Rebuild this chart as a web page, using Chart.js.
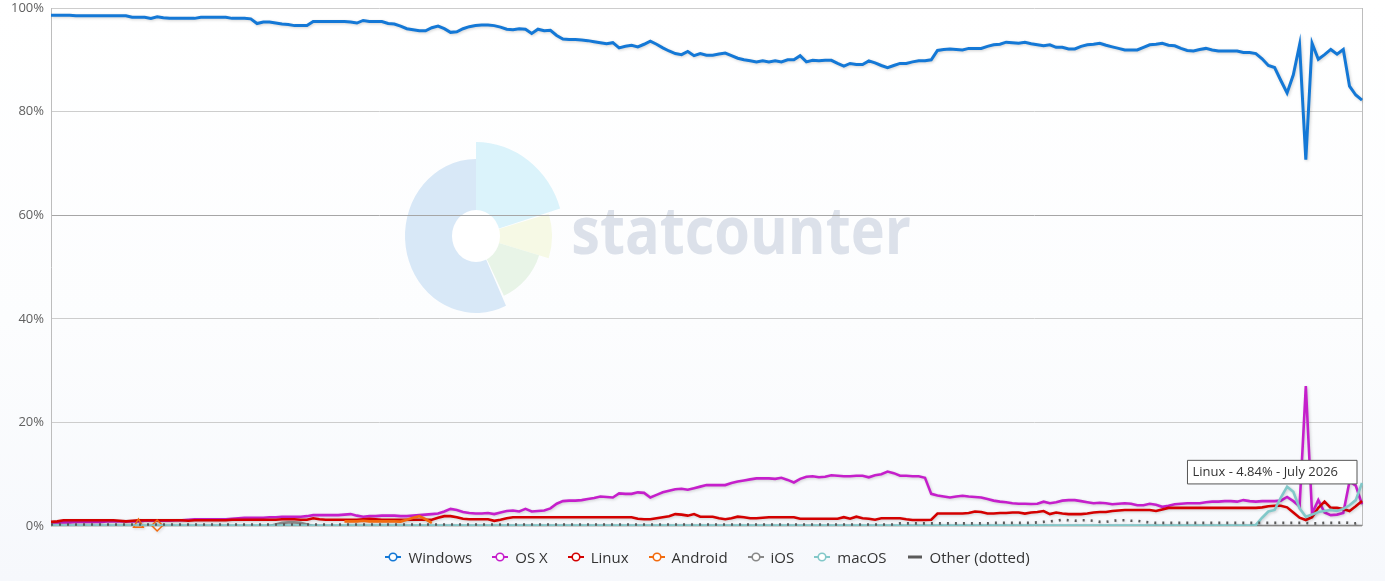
<!DOCTYPE html>
<html>
<head>
<meta charset="utf-8">
<script src="https://cdn.jsdelivr.net/npm/chart.js@4.4.1/dist/chart.umd.min.js"></script>
<style>
html,body{margin:0;padding:0;}
body{width:1385px;height:581px;overflow:hidden;position:relative;
  background:linear-gradient(to bottom,#ffffff 0%,#fcfdfe 55%,#f6f8fc 100%);
  font-family:'Open Sans',sans-serif;}
#c{position:absolute;left:0;top:0;}
#legend{position:absolute;left:52px;width:1311px;top:547px;height:20px;display:flex;
  justify-content:center;align-items:center;gap:20px;font-size:15px;color:#333;}
.item{display:flex;align-items:center;white-space:nowrap;line-height:20px;}
.item svg{margin-right:7px;display:block;}
</style>
</head>
<body>
<canvas id="c" width="1385" height="581"></canvas>
<div id="legend"></div>
<script>
// ---------- categories ----------
const monthNames = ['January','February','March','April','May','June','July','August','September','October','November','December'];
const years = [2009,2010,2011,2012,2013,2014,2015,2016,2017,2018,2019,2020,2021,2022,2023,2024,2025,2026];
const lastCategory = 'July 2026';
const categories = [];
outer: for (const y of years) { for (const m of monthNames) { categories.push(m + ' ' + y); if (m + ' ' + y === lastCategory) break outer; } }

// ---------- series values (%) ----------
const windows = [
98.6,98.6,98.6,98.6,98.5,98.5,98.5,98.5,98.5,98.5,
98.5,98.5,98.5,98.2,98.2,98.2,98.0,98.3,98.1,98.0,
98.0,98.0,98.0,98.0,98.2,98.2,98.2,98.2,98.2,98.0,
98.0,98.0,97.9,97.0,97.3,97.3,97.1,96.9,96.8,96.6,
96.6,96.6,97.4,97.4,97.4,97.4,97.4,97.4,97.3,97.1,
97.6,97.4,97.4,97.4,97.0,96.9,96.5,96.0,95.8,95.6,
95.6,96.2,96.5,96.0,95.3,95.4,96.0,96.4,96.6,96.7,
96.7,96.6,96.3,95.9,95.8,96.0,95.9,95.1,95.9,95.6,
95.7,94.7,94.0,93.9,93.9,93.8,93.7,93.5,93.3,93.1,
93.3,92.3,92.6,92.8,92.5,93.0,93.6,93.0,92.3,91.7,
91.2,91.0,91.6,90.8,91.2,90.9,90.9,91.1,91.3,90.8,
90.3,90.0,89.8,89.6,89.8,89.6,89.8,89.6,90.0,90.0,
90.8,89.6,89.9,89.8,89.9,89.9,89.3,88.8,89.3,89.1,
89.1,89.8,89.4,88.9,88.5,88.9,89.3,89.3,89.6,89.8,
89.8,90.0,91.8,92.0,92.1,92.0,91.9,92.2,92.2,92.2,
92.6,92.9,93.0,93.4,93.3,93.2,93.4,93.1,92.9,92.7,
92.9,92.4,92.4,92.1,92.1,92.6,92.9,93.0,93.2,92.8,
92.5,92.2,91.9,91.9,91.9,92.4,92.9,93.0,93.2,92.8,
92.7,92.2,91.8,91.7,92.0,92.2,91.9,91.7,91.7,91.7,
91.7,91.4,91.4,91.2,90.2,88.9,88.5,86.0,83.6,87.1,
92.9,70.7,93.2,90.1,91.0,92.0,91.1,92.0,84.9,83.2,82.2];

const osx = [
0.7,0.7,0.7,0.7,0.8,0.8,0.8,0.8,0.8,0.9,
0.9,0.9,0.9,0.9,0.9,1.0,1.0,1.0,1.0,1.0,
1.1,1.1,1.2,1.3,1.3,1.3,1.3,1.3,1.3,1.4,
1.5,1.6,1.6,1.6,1.6,1.7,1.7,1.8,1.8,1.8,
1.8,1.9,2.1,2.1,2.1,2.1,2.1,2.2,2.3,2.0,
1.8,1.9,1.9,2.0,2.0,2.0,1.9,1.9,2.0,2.1,
2.2,2.3,2.4,2.8,3.3,3.1,2.7,2.5,2.4,2.4,
2.5,2.3,2.6,2.9,3.0,2.8,3.3,2.8,2.9,3.0,
3.4,4.3,4.8,4.9,4.9,5.0,5.2,5.4,5.7,5.6,
5.5,6.3,6.2,6.2,6.5,6.4,5.5,6.0,6.5,6.8,
7.1,7.2,7.0,7.3,7.6,7.9,7.9,7.9,7.9,8.3,
8.6,8.8,9.0,9.2,9.2,9.2,9.1,9.3,8.9,8.4,
9.1,9.5,9.6,9.4,9.5,9.8,9.7,9.6,9.6,9.7,
9.7,9.4,9.8,10.0,10.5,10.2,9.7,9.7,9.6,9.6,
9.3,6.2,5.9,5.7,5.5,5.7,5.85,5.7,5.6,5.5,
5.2,4.9,4.7,4.6,4.4,4.3,4.3,4.25,4.3,4.7,
4.4,4.6,4.9,5.0,5.0,4.8,4.6,4.4,4.5,4.4,
4.2,4.3,4.4,4.3,4.0,4.0,4.3,4.1,3.7,3.9,
4.2,4.3,4.4,4.4,4.4,4.6,4.7,4.7,4.8,4.8,
4.7,5.0,4.8,4.7,4.8,4.8,4.8,4.9,5.6,4.8,
3.8,27.0,2.4,5.0,2.6,2.1,2.2,2.5,8.6,7.8,4.2];

const linux = [
0.8,0.9,1.1,1.1,1.1,1.1,1.1,1.1,1.1,1.1,
1.1,1.0,0.9,1.0,1.1,1.1,1.1,1.1,1.1,1.1,
1.1,1.1,1.0,1.1,1.1,1.1,1.1,1.1,1.1,1.2,
1.2,1.2,1.2,1.2,1.2,1.2,1.2,1.3,1.3,1.3,
1.2,1.2,1.5,1.3,1.2,1.2,1.2,1.2,1.2,1.2,
1.3,1.4,1.3,1.2,1.2,1.2,1.2,1.2,1.2,1.2,
1.2,1.2,1.6,1.9,1.9,1.7,1.4,1.3,1.3,1.3,
1.3,1.0,1.2,1.5,1.7,1.7,1.7,1.7,1.7,1.7,
1.7,1.7,1.7,1.7,1.7,1.7,1.7,1.7,1.7,1.7,
1.7,1.7,1.7,1.7,1.4,1.3,1.3,1.5,1.7,1.9,
2.3,2.2,2.0,2.3,1.8,1.8,1.8,1.5,1.3,1.5,
1.8,1.7,1.5,1.5,1.6,1.7,1.7,1.7,1.7,1.7,
1.4,1.4,1.4,1.4,1.4,1.4,1.4,1.7,1.4,1.8,
1.5,1.4,1.2,1.5,1.5,1.5,1.5,1.3,1.15,1.15,
1.15,1.2,2.4,2.4,2.4,2.4,2.4,2.5,2.8,2.7,
2.4,2.4,2.5,2.5,2.6,2.6,2.4,2.6,2.7,2.9,
2.3,2.6,2.4,2.3,2.3,2.3,2.4,2.6,2.7,2.7,
2.9,3.0,3.1,3.1,3.1,3.1,3.1,2.9,3.2,3.5,
3.5,3.5,3.5,3.5,3.5,3.5,3.5,3.5,3.5,3.5,
3.5,3.5,3.5,3.5,3.6,3.8,3.9,3.9,3.6,2.6,
1.6,1.15,1.7,3.5,4.7,3.5,3.5,3.3,2.9,3.8,4.84];

const android = [
null,null,null,null,null,null,null,null,null,null,
null,null,null,null,0.3,null,null,0.1,null,null,
null,null,null,null,null,null,null,null,null,null,
null,null,null,null,null,null,null,null,null,null,
null,null,null,null,null,null,null,0.9,0.9,0.9,
1.0,0.9,0.9,0.9,0.9,0.9,0.85,1.2,1.6,1.9,
1.3,0.6,null,null,null,null,null,null,null,null,
null,null,null,null,null,null,null,null,null,null,
null,null,null,null,null,null,null,null,null,null,
null,null,null,null,null,null,null,null,null,null,
null,null,null,null,null,null,null,null,null,null,
null,null,null,null,null,null,null,null,null,null,
null,null,null,null,null,null,null,null,null,null,
null,null,null,null,null,null,null,null,null,null,
null,null,null,null,null,null,null,null,null,null,
null,null,null,null,null,null,null,null,null,null,
null,null,null,null,null,null,null,null,null,null,
null,null,null,null,null,null,null,null,null,null,
null,null,null,null,null,null,null,null,null,null,
null,null,null,null,null,null,null,null,null,null,
null,null,null,null,null,null,null,null,null,null,null];

const ios = [
0,0,0,0,0,0,0,0,0,0,
0,0,0,0,0,0,0,0,0,0,
0,0,0,0,0,0,0,0,0,0,
0,0,0,0,0,0,0.3,0.6,0.7,0.7,
0.6,0.3,0,0,0,0,0,0,0,0,
0,0,0,0,0,0,0,0,0,0,
0,0,0,0,0,0,0,0,0,0,
0,0,0,0,0,0,0,0,0,0,
0,0,0,0,0,0,0,0,0,0,
0,0,0,0,0,0,0,0,0,0,
0,0,0,0,0,0,0,0,0,0,
0,0,0,0,0,0,0,0,0,0,
0,0,0,0,0,0,0,0,0,0,
0,0,0,0,0,0,0,0,0,0,
0,0,0,0,0,0,0,0,0,0,
0,0,0,0,0,0,0,0,0,0,
0,0,0,0,0,0,0,0,0,0,
0,0,0,0,0,0,0,0,0,0,
0,0,0,0,0,0,0,0,0,0,
0,0,0,0,0,0,0,0,0,0,
0,0,0,0,0,0,0,0,0,0,0];

const macos = [
0.1,0.1,0.1,0.1,0.1,0.1,0.1,0.1,0.1,0.1,
0.1,0.1,0.1,0.1,0.1,0.1,0.1,0.1,0.1,0.1,
0.1,0.1,0.1,0.1,0.1,0.1,0.1,0.1,0.1,0.1,
0.1,0.1,0.1,0.1,0.1,0.1,0.1,0.1,0.1,0.1,
0.1,0.1,0.1,0.1,0.1,0.1,0.1,0.1,0.1,0.1,
0.1,0.1,0.1,0.1,0.1,0.1,0.1,0.1,0.1,0.1,
0.1,0.1,0.1,0.1,0.1,0.1,0.1,0.1,0.1,0.1,
0.1,0.1,0.1,0.1,0.1,0.1,0.1,0.1,0.1,0.1,
0.1,0.1,0.1,0.1,0.1,0.1,0.1,0.1,0.1,0.1,
0.1,0.1,0.1,0.1,0.1,0.1,0.1,0.1,0.1,0.1,
0.1,0.1,0.1,0.1,0.1,0.1,0.1,0.1,0.1,0.1,
0.1,0.1,0.1,0.1,0.1,0.1,0.1,0.1,0.1,0.1,
0.1,0.1,0.1,0.1,0.1,0.1,0.1,0.1,0.1,0.1,
0.1,0.1,0.1,0.1,0.1,0.1,0.1,0.1,0.1,0.1,
0.1,0.1,0.1,0.1,0.1,0.1,0.1,0.1,0.1,0.1,
0.1,0.1,0.1,0.1,0.1,0.1,0.1,0.1,0.1,0.1,
0.1,0.1,0.1,0.1,0.1,0.1,0.1,0.1,0.1,0.1,
0.1,0.1,0.1,0.1,0.1,0.1,0.1,0.1,0.1,0.1,
0.1,0.1,0.1,0.1,0.1,0.1,0.1,0.1,0.1,0.1,
0.1,0.1,0.1,0.2,1.6,2.8,3.1,5.5,7.6,6.6,
3.4,1.8,2.2,2.7,2.9,3.1,2.9,3.3,4.0,5.0,8.3];

const other = [
0.3,0.3,0.3,0.3,0.3,0.3,0.3,0.3,0.3,0.3,
0.3,0.3,0.3,0.3,0.3,0.3,0.3,0.3,0.3,0.3,
0.3,0.3,0.3,0.3,0.3,0.3,0.3,0.3,0.3,0.3,
0.3,0.3,0.3,0.3,0.3,0.3,0.3,0.3,0.3,0.3,
0.3,0.3,0.3,0.3,0.3,0.3,0.3,0.3,0.3,0.3,
0.3,0.3,0.3,0.3,0.3,0.3,0.3,0.3,0.3,0.3,
0.3,0.3,0.3,0.3,0.3,0.3,0.3,0.3,0.3,0.3,
0.3,0.3,0.3,0.3,0.3,0.3,0.3,0.3,0.3,0.3,
0.3,0.3,0.3,0.3,0.3,0.3,0.3,0.3,0.3,0.3,
0.3,0.3,0.3,0.3,0.3,0.3,0.3,0.3,0.3,0.3,
0.3,0.3,0.3,0.3,0.3,0.3,0.3,0.3,0.3,0.3,
0.3,0.3,0.3,0.3,0.3,0.3,0.3,0.3,0.3,0.3,
0.3,0.3,0.3,0.3,0.3,0.3,0.3,0.3,0.3,0.3,
0.3,0.3,0.3,0.3,0.3,0.3,0.5,0.5,0.5,0.5,
0.5,0.5,0.5,0.5,0.5,0.5,0.5,0.5,0.5,0.5,
0.5,0.6,0.6,0.6,0.6,0.6,0.6,0.6,0.7,0.8,
0.9,1.0,1.2,1.1,1.0,1.1,1.1,1.0,0.8,0.8,
1.0,1.1,1.1,1.0,1.0,0.8,0.7,0.6,0.6,0.6,
0.6,0.6,0.6,0.6,0.6,0.6,0.6,0.6,0.6,0.6,
0.6,0.6,0.6,0.6,0.6,0.6,0.6,0.6,0.6,0.6,
0.6,0.6,0.5,0.5,0.6,0.6,0.6,0.7,0.6,0.5,0.7];

const seriesNames  = ['Windows','OS X','Linux','Android','iOS','macOS','Other (dotted)'];
const seriesValues = [windows, osx, linux, android, ios, macos, other];
const seriesColors = ['#1478d6','#c51fcb','#d30000','#f26b0f','#888888','#82c8c9','#5a5a5a'];
const yTickValues  = [0,20,40,60,80,100];
const tooltipSeries = 'Linux';
const tooltipCategory = 'July 2026';

// ---------- styles (not data) ----------
const androidMarkers = {14:'triangle', 17:'rectRot'};

const datasets = seriesNames.map((name, i) => {
  const isOther = name.startsWith('Other');
  const isAndroid = name === 'Android';
  return {
    label: name,
    data: seriesValues[i],
    borderColor: seriesColors[i],
    backgroundColor: seriesColors[i],
    borderWidth: name === 'Windows' ? 3 : 2.6,
    borderDash: isOther ? [2, 6] : [],
    tension: 0,
    fill: false,
    spanGaps: false,
    order: 20 - i,
    clip: isAndroid ? false : undefined,
    pointRadius: isAndroid ? (c => androidMarkers[c.dataIndex] ? 5.5 : 0) : 0,
    pointStyle: isAndroid ? (c => androidMarkers[c.dataIndex] || 'circle') : 'circle',
    pointBorderColor: seriesColors[i],
    pointBackgroundColor: 'rgba(255,255,255,0)',
    pointBorderWidth: 1.5,
    pointHoverRadius: 0,
    pointHitRadius: 0
  };
});

const watermark = {
  id: 'watermark',
  beforeDraw(chart) {
    const ctx = chart.ctx;
    const cx = 476, cy = 236;
    const seg = (rx, ry, a0, a1, col) => {
      ctx.beginPath(); ctx.moveTo(cx, cy);
      ctx.ellipse(cx, cy, rx, ry, 0, a0 * Math.PI / 180, a1 * Math.PI / 180);
      ctx.closePath(); ctx.fillStyle = col; ctx.fill();
    };
    ctx.save();
    seg(88, 94, -90, -17, '#dbf3fb');
    seg(76, 76, -17, 17, '#f6f9e5');
    seg(66, 66, 17, 65, '#e8f4e7');
    seg(71, 77, 65, 270, '#d8e8f7');
    ctx.beginPath(); ctx.ellipse(cx, cy, 24, 26, 0, 0, Math.PI * 2);
    ctx.fillStyle = '#ffffff'; ctx.fill();
    ctx.font = 'bold 66px "Open Sans"';
    ctx.textBaseline = 'alphabetic';
    const m = ctx.measureText('statcounter');
    const ink = m.actualBoundingBoxLeft + m.actualBoundingBoxRight;
    const sx = 337 / ink;
    ctx.translate(573, 254);
    ctx.scale(sx, 1);
    ctx.fillStyle = '#dce1ea';
    ctx.fillText('statcounter', m.actualBoundingBoxLeft, 0);
    ctx.restore();
  }
};

const frame = {
  id: 'frame',
  beforeDatasetsDraw(chart) {
    const {ctx, chartArea: a} = chart;
    ctx.save();
    ctx.strokeStyle = '#bdbdbd'; ctx.lineWidth = 1;
    ctx.beginPath(); ctx.moveTo(Math.round(a.right) + 0.5, a.top); ctx.lineTo(Math.round(a.right) + 0.5, a.bottom); ctx.stroke();
    ctx.restore();
  },
  beforeDatasetDraw(chart) {
    const ctx = chart.ctx;
    ctx.shadowColor = 'rgba(0,0,0,0.18)';
    ctx.shadowBlur = 3; ctx.shadowOffsetX = 1; ctx.shadowOffsetY = 1;
  },
  afterDatasetDraw(chart) {
    const ctx = chart.ctx;
    ctx.shadowColor = 'rgba(0,0,0,0)';
    ctx.shadowBlur = 0; ctx.shadowOffsetX = 0; ctx.shadowOffsetY = 0;
  }
};

const TT = Chart.Tooltip;
if (TT && TT.positioners) {
  TT.positioners.leftAbove = function(items) {
    if (!items.length) return false;
    const el = items[0].element;
    return {x: el.x - 5, y: el.y - 17};
  };
}

const chart = new Chart(document.getElementById('c'), {
  type: 'line',
  data: {labels: categories, datasets},
  plugins: [watermark, frame],
  options: {
    responsive: false,
    animation: false,
    events: [],
    layout: {padding: {left: 0, right: 23, top: 8, bottom: 55}},
    plugins: {
      legend: {display: false},
      tooltip: {
        enabled: true,
        position: (TT && TT.positioners && TT.positioners.leftAbove) ? 'leftAbove' : 'nearest',
        xAlign: 'right', yAlign: 'bottom',
        caretSize: 0, caretPadding: 0, cornerRadius: 0,
        displayColors: false,
        backgroundColor: '#ffffff',
        borderColor: '#555555', borderWidth: 1,
        bodyColor: '#333333',
        bodyFont: {family: 'Open Sans', size: 13},
        padding: {left: 5, right: 19, top: 4, bottom: 4},
        callbacks: {
          title: () => '',
          label: c => `${c.dataset.label} - ${c.parsed.y.toFixed(2)}% - ${c.label}`
        }
      }
    },
    scales: {
      x: {display: false, offset: false},
      y: {
        min: 0, max: 100,
        afterBuildTicks: s => { s.ticks = yTickValues.map(v => ({value: v})); },
        afterFit: s => { s.width = 51; },
        ticks: {callback: v => v + '%', color: '#606060', font: {family: 'Open Sans', size: 13}, padding: 0},
        grid: {color: c => (c.tick && c.tick.value === 60) ? '#a6a6a6' : '#cdcdcd', drawTicks: true, tickLength: 7, tickColor: 'rgba(0,0,0,0)', lineWidth: 1},
        border: {color: '#bdbdbd'}
      }
    }
  }
});

const li = seriesNames.indexOf(tooltipSeries);
const ci = categories.indexOf(tooltipCategory);
chart.tooltip.setActiveElements([{datasetIndex: li, index: ci}], {x: 0, y: 0});
chart.update();

// ---------- HTML legend ----------
const legend = document.getElementById('legend');
seriesNames.forEach((name, i) => {
  const c = seriesColors[i];
  const item = document.createElement('div');
  item.className = 'item';
  const svg = name.startsWith('Other')
    ? `<svg width="16" height="12"><line x1="1" y1="6" x2="15" y2="6" stroke="${c}" stroke-width="3"/></svg>`
    : `<svg width="16" height="12"><line x1="0" y1="6" x2="16" y2="6" stroke="${c}" stroke-width="2"/><circle cx="8" cy="6" r="3.8" fill="#fff" stroke="${c}" stroke-width="1.6"/></svg>`;
  item.innerHTML = svg + '<span></span>';
  item.querySelector('span').textContent = name;
  legend.appendChild(item);
});
</script>
</body>
</html>
